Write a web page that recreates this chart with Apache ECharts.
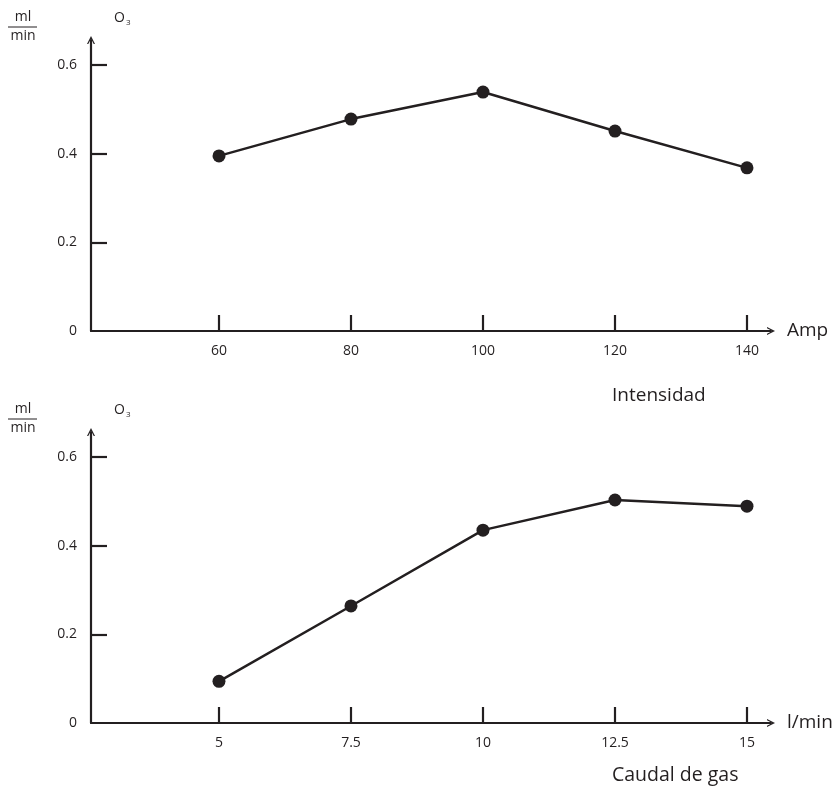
<!DOCTYPE html>
<html>
<head>
<meta charset="utf-8">
<script src="https://cdn.jsdelivr.net/npm/echarts@6/dist/echarts.min.js"></script>
<style>html,body{margin:0;padding:0;background:#fff;}#c{width:838px;height:790px;}</style>
</head>
<body>
<div id="c"></div>
<script>
// ---- data ----
const ampCategories = [60, 80, 100, 120, 140];
const ampValues = [0.395, 0.478, 0.539, 0.451, 0.368];
const gasCategories = [5, 7.5, 10, 12.5, 15];
const gasValues = [0.094, 0.264, 0.435, 0.503, 0.489];
const yTickLabels = [0, 0.2, 0.4, 0.6];
const yTicks = [0.2, 0.4, 0.6];
const topXName = 'Amp';
const bottomXName = 'l/min';
const topTitle = 'Intensidad';
const bottomTitle = 'Caudal de gas';
const unitTop = 'ml';
const unitBottom = 'min';

const INK = '#231f20';
const FONT = 'Open Sans';
const chevron = 'path://M0,10 L5,0 L10,10 L8.4,10 L5,3.4 L1.6,10 Z';

function xAxisOpt(gridIndex, ticks, min, max, name) {
  return {
    type: 'value', gridIndex, min, max,
    name, nameLocation: 'end', nameGap: 16,
    nameTextStyle: { color: INK, fontSize: 19, fontFamily: FONT, verticalAlign: 'middle' },
    axisLine: { show: true, lineStyle: { color: INK, width: 2.2 }, symbol: ['none', chevron], symbolSize: [12, 8], symbolOffset: [0, 0] },
    axisTick: { show: true, inside: true, length: 16, lineStyle: { color: INK, width: 2.2 }, customValues: ticks },
    axisLabel: { color: INK, fontSize: 14, fontFamily: FONT, margin: 13, customValues: ticks, formatter: v => String(v) },
    splitLine: { show: false }
  };
}
function yAxisOpt(gridIndex) {
  return {
    type: 'value', gridIndex, min: 0, max: 0.6564,
    axisLine: { show: true, lineStyle: { color: INK, width: 2.2 }, symbol: ['none', chevron], symbolSize: [12, 8], symbolOffset: [0, 0] },
    axisTick: { show: true, inside: true, length: 16, lineStyle: { color: INK, width: 2.2 }, customValues: yTicks },
    axisLabel: { color: INK, fontSize: 14, fontFamily: FONT, margin: 14, customValues: yTickLabels, formatter: v => String(v) },
    splitLine: { show: false }
  };
}
function seriesOpt(i, xs, ys) {
  return {
    type: 'line', xAxisIndex: i, yAxisIndex: i,
    data: xs.map((x, k) => [x, ys[k]]),
    symbol: 'circle', symbolSize: 13,
    lineStyle: { color: INK, width: 2.5 },
    itemStyle: { color: INK },
    emphasis: { disabled: true }, animation: false
  };
}
function unitGraphics(top) {
  return [
    { type: 'text', x: 23, y: top + 4, style: { text: unitTop, fill: INK, font: '14px "' + FONT + '"', align: 'center', verticalAlign: 'middle' } },
    { type: 'line', shape: { x1: 8, y1: top + 14, x2: 37, y2: top + 14 }, style: { stroke: INK, lineWidth: 1 } },
    { type: 'text', x: 23, y: top + 23, style: { text: unitBottom, fill: INK, font: '14px "' + FONT + '"', align: 'center', verticalAlign: 'middle' } },
    { type: 'text', x: 114, y: top - 4, style: {
      text: '{o|O}{s|3}', rich: { o: { fontSize: 14, fontFamily: FONT, fill: INK }, s: { fontSize: 8, fontFamily: FONT, fill: INK, padding: [10, 0, 0, 1] } } } }
  ];
}

const chart = echarts.init(document.getElementById('c'), null, { renderer: 'canvas' });
chart.setOption({
  backgroundColor: '#fff',
  animation: false,
  grid: [
    { left: 91, top: 40, width: 680, height: 291 },
    { left: 91, top: 432, width: 680, height: 291 }
  ],
  xAxis: [
    xAxisOpt(0, ampCategories, 40.606, 143.64, topXName),
    xAxisOpt(1, gasCategories, 2.576, 15.455, bottomXName)
  ],
  yAxis: [yAxisOpt(0), yAxisOpt(1)],
  series: [seriesOpt(0, ampCategories, ampValues), seriesOpt(1, gasCategories, gasValues)],
  graphic: [
    ...unitGraphics(13),
    ...unitGraphics(405),
    { type: 'text', x: 612, y: 396, style: { text: topTitle, fill: INK, font: '19px "' + FONT + '"', verticalAlign: 'middle' } },
    { type: 'text', x: 612, y: 775, style: { text: bottomTitle, fill: INK, font: '19.5px "' + FONT + '"', verticalAlign: 'middle' } }
  ]
});
</script>
</body>
</html>
